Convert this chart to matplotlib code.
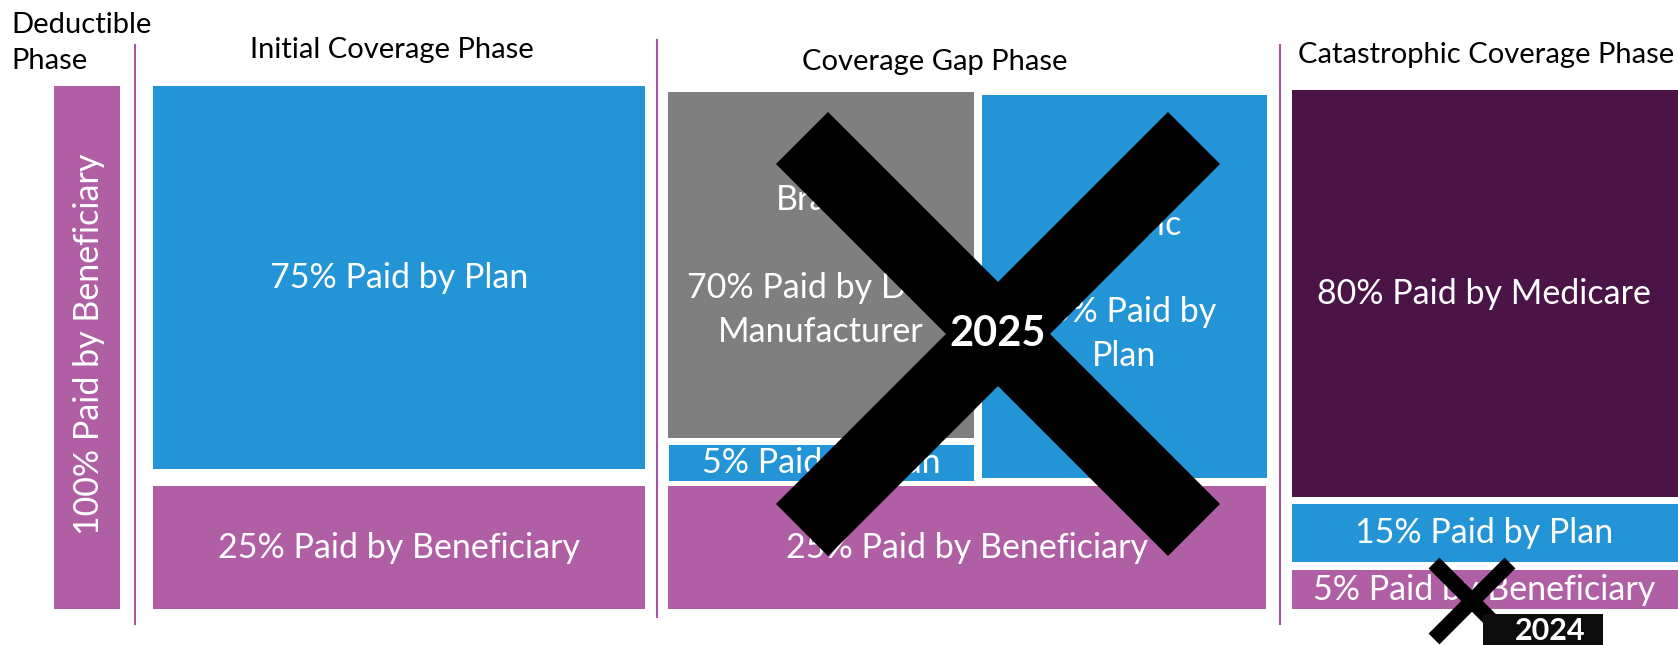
import textwrap
import matplotlib
matplotlib.use("Agg")
import matplotlib.pyplot as plt

plt.rcParams["font.family"] = ["Lato", "DejaVu Sans"]

# ----------------------------
# DATA
# ----------------------------
phase_titles = ["Deductible\nPhase", "Initial Coverage Phase", "Coverage Gap Phase",
                "Catastrophic Coverage Phase"]

seg_share = [100, 75, 25, 70, 5, 75, 25, 80, 15, 5]
seg_payer = ["Beneficiary", "Plan", "Beneficiary", "Drug Manufacturer", "Plan",
             "Plan", "Beneficiary", "Medicare", "Plan", "Beneficiary"]
seg_drug = ["", "", "", "Brand", "", "Generic", "", "", "", ""]

crossed_years = ["2025", "2024"]

payer_colors = {
    "Beneficiary": "#B05FA5",
    "Plan": "#2394D6",
    "Drug Manufacturer": "#7F7F7F",
    "Medicare": "#4A1446",
}

# ----------------------------
# LAYOUT (pixel space, y down)
# ----------------------------
W, H = 1678, 645
# x0, x1, y0, y1 for each segment
seg_box = [
    (54, 120, 86, 609),
    (153, 645, 86, 469),
    (153, 645, 486, 609),
    (668, 974, 92, 438),
    (669, 974, 445, 481),
    (982, 1267, 95, 478),
    (668, 1266, 486, 609),
    (1292, 1678, 90, 497),
    (1292, 1678, 504, 562),
    (1292, 1678, 570, 609),
]
seg_wrap = [None, None, None, 16, None, 12, None, None, None, None]
seg_rot = [90, 0, 0, 0, 0, 0, 0, 0, 0, 0]
seg_text_x = [89, 399, 399, 821, 821, 1124, 967, 1484, 1484, 1484]
seg_text_dy = [-3, 0, 0, 1, 0, 4, 0, 0, 0, 0]

title_pos = [(11, 43, "left"), (392, 50, "center"), (935, 62, "center"), (1486, 55, "center")]
sep_x = [135, 657, 1280]
sep_y = [(45, 624), (40, 617), (45, 624)]

cross_center = [(998, 334), (1472, 601)]
cross_half = [196, 38]
cross_lw = [53, 11]
cross_fs = [30, 22]

fig = plt.figure(figsize=(W / 100, H / 100), dpi=100)
ax = fig.add_axes([0, 0, 1, 1])
ax.set_xlim(0, W)
ax.set_ylim(H, 0)
ax.axis("off")

# boxes
for i, (x0, x1, y0, y1) in enumerate(seg_box):
    ax.bar(x0, y1 - y0, width=x1 - x0, bottom=y0, align="edge",
           color=payer_colors[seg_payer[i]], linewidth=0, zorder=1)
    label = f"{seg_share[i]}% Paid by {seg_payer[i]}"
    if seg_wrap[i]:
        label = textwrap.fill(label, seg_wrap[i])
    if seg_drug[i]:
        label = seg_drug[i] + "\n\n" + label
    ax.text(seg_text_x[i], (y0 + y1) / 2 + seg_text_dy[i], label, color="white", fontsize=24.5,
            ha="center", va="center", rotation=seg_rot[i], linespacing=1.45, zorder=2)

# phase titles and separators
for title, (tx, ty, ha) in zip(phase_titles, title_pos):
    ax.text(tx, ty, title, fontsize=21, ha=ha, va="center", color="black", linespacing=1.45)
for x, (y0, y1) in zip(sep_x, sep_y):
    ax.plot([x, x], [y0, y1], color="#A855A8", linewidth=1.5)

# crossed-out years
for year, (cx, cy), hw, lw in zip(crossed_years, cross_center, cross_half, cross_lw):
    ax.plot([cx - hw, cx + hw], [cy - hw, cy + hw], color="black", linewidth=lw,
            solid_capstyle="butt", zorder=5)
    ax.plot([cx - hw, cx + hw], [cy + hw, cy - hw], color="black", linewidth=lw,
            solid_capstyle="butt", zorder=5)

ax.text(cross_center[0][0], cross_center[0][1], crossed_years[0], color="white",
        fontsize=cross_fs[0], fontweight="bold", ha="center", va="center", zorder=6)

# 2024 tag sits on top of the small cross
ax.bar(1483, 40, width=120, bottom=614, align="edge", color="#0D0D0D", linewidth=0, zorder=7)
ax.text(1550, 631, crossed_years[1], color="white", fontsize=cross_fs[1],
        fontweight="bold", ha="center", va="center", zorder=8)

fig.savefig("out.png", dpi=100)
